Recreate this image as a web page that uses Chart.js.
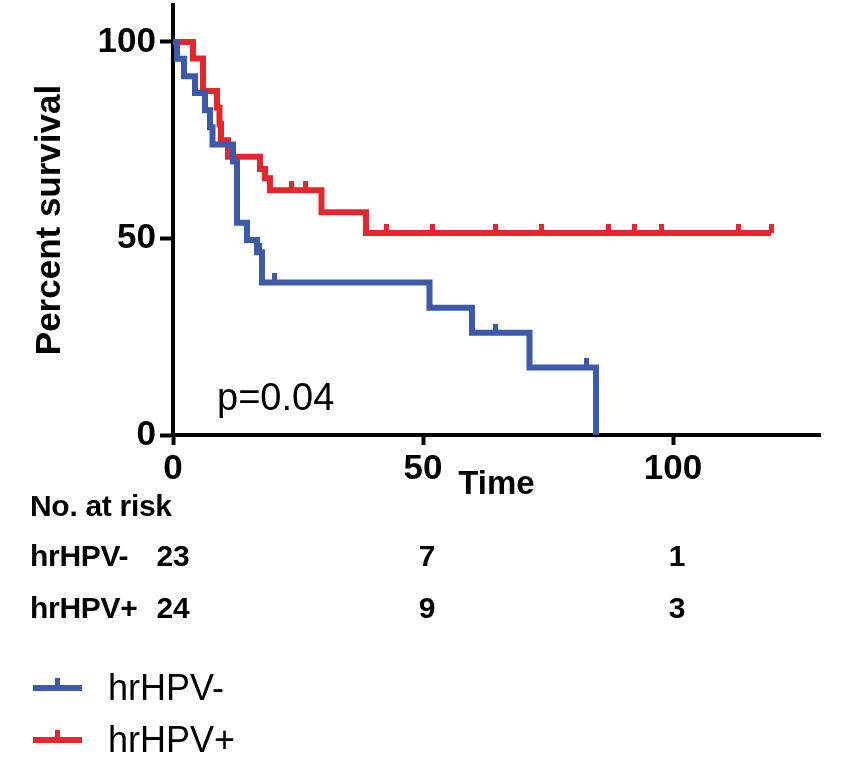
<!DOCTYPE html>
<html>
<head>
<meta charset="utf-8">
<script src="https://cdn.jsdelivr.net/npm/chart.js@4.4.1/dist/chart.umd.min.js"></script>
<style>
  html, body { margin: 0; padding: 0; background: #fff; }
  #wrap { position: relative; width: 858px; height: 776px; }
  .txt { position: absolute; line-height: 1; white-space: nowrap; color: #000; font-family: "Liberation Sans", Arial, sans-serif; }
  .risk { font-weight: bold; font-size: 30px; letter-spacing: -0.3px; }
  .num { transform: translateX(-50%); }
  .pval { font-size: 38px; }
  .leg { font-size: 36px; }
  .sample { position: absolute; height: 6px; width: 49px; }
  .sample i { position: absolute; left: 22px; top: -7px; width: 5px; height: 8px; }
</style>
</head>
<body>
<div id="wrap">
  <canvas id="km" width="858" height="776"></canvas>
</div>
<script>
// survival curves (time, percent survival)
var negTimes = [0, 0.8, 2.2, 4.4, 6.4, 7.4, 7.9, 12.0, 12.8, 14.8, 16.8, 17.8, 51.3, 59.8, 71.3, 84.6];
var negSurv  = [100, 95.7, 91.3, 87.0, 82.6, 78.3, 73.9, 69.6, 54.0, 49.6, 46.5, 38.8, 32.4, 26.0, 17.2, 0];
var negCensT = [17.2, 20.2, 64.5, 82.7];
var negCensS = [46.5, 38.8, 26.0, 17.2];

var posTimes = [0, 4.0, 6.0, 8.8, 9.3, 9.6, 11.0, 17.4, 18.4, 19.4, 29.7, 38.6, 119.6];
var posSurv  = [100, 95.8, 87.5, 83.3, 79.2, 75.0, 70.8, 67.7, 65.3, 62.3, 56.7, 51.4, 51.4];
var posCensT = [23.7, 26.5, 42.6, 51.8, 64.5, 73.7, 87.0, 92.2, 97.6, 113.0, 119.6];
var posCensS = [62.3, 62.3, 51.4, 51.4, 51.4, 51.4, 51.4, 51.4, 51.4, 51.4, 51.4];

// number at risk table
var riskTimes = [0, 50, 100];
var riskNeg = [23, 7, 1];
var riskPos = [24, 9, 3];

var groups = ['hrHPV-', 'hrHPV+'];
var blue = '#3b5aa9';
var red = '#e5262d';

function pts(xs, ys) {
    return xs.map(function (x, i) { return {x: x, y: ys[i]}; });
}

// censor mark: small tick pointing up from the line
function censorMark(color) {
    var c = document.createElement('canvas');
    c.width = 5; c.height = 18;
    var g = c.getContext('2d');
    g.fillStyle = color;
    g.fillRect(0, 0, 5, 9);
    return c;
}

var tickFont = {family: '"Liberation Sans Narrow", "Liberation Sans", Arial', size: 35, weight: 'bold'};

var ctx = document.getElementById('km').getContext('2d');
var chart = new Chart(ctx, {
    type: 'line',
    data: {
        datasets: [{
            label: groups[0],
            data: pts(negTimes, negSurv),
            borderColor: blue,
            borderWidth: 6,
            stepped: 'before',
            pointRadius: 0,
            order: 0
        }, {
            label: groups[0] + ' censored',
            data: pts(negCensT, negCensS),
            showLine: false,
            pointStyle: censorMark(blue),
            order: 0
        }, {
            label: groups[1],
            data: pts(posTimes, posSurv),
            borderColor: red,
            borderWidth: 6,
            stepped: 'before',
            pointRadius: 0,
            order: 1
        }, {
            label: groups[1] + ' censored',
            data: pts(posCensT, posCensS),
            showLine: false,
            pointStyle: censorMark(red),
            order: 1
        }]
    },
    options: {
        responsive: false,
        animation: false,
        layout: {padding: {left: 0, top: 5, right: 38, bottom: 271}},
        plugins: {
            legend: {display: false},
            tooltip: {enabled: false}
        },
        scales: {
            x: {
                type: 'linear',
                min: 0,
                max: 129.4,
                ticks: {stepSize: 50, includeBounds: false, color: '#000', font: tickFont, padding: 3, maxRotation: 0},
                grid: {drawOnChartArea: false, tickLength: 10, tickWidth: 4, tickColor: '#000'},
                border: {width: 4, color: '#000'},
                title: {display: true, text: 'Time', color: '#000',
                        font: {family: '"Liberation Sans", Arial', size: 33, weight: 'bold'},
                        padding: {top: 0, bottom: 0}},
                afterFit: function (s) { s.height = 70; s.paddingLeft = 0; s.paddingRight = 0; }
            },
            y: {
                min: 0,
                max: 109.4,
                ticks: {stepSize: 50, includeBounds: false, color: '#000', font: tickFont, padding: 4},
                grid: {drawOnChartArea: false, tickLength: 13, tickWidth: 4, tickColor: '#000'},
                border: {width: 4, color: '#000'},
                title: {display: true, text: 'Percent survival', color: '#000',
                        font: {family: '"Liberation Sans", Arial', size: 35, weight: 'bold'},
                        padding: {top: 29, bottom: 0}},
                afterFit: function (s) { s.width = 173; s.paddingTop = 0; s.paddingBottom = 0; }
            }
        }
    }
});

// text outside the plot: p value, number at risk, legend
var wrap = document.getElementById('wrap');
function addText(cls, text, left, top) {
    var d = document.createElement('div');
    d.className = 'txt ' + cls;
    d.textContent = text;
    d.style.left = left + 'px';
    d.style.top = top + 'px';
    wrap.appendChild(d);
    return d;
}

addText('pval', 'p=0.04', 217, 378);

var xs = chart.scales.x;
addText('risk', 'No. at risk', 30, 491);
var rowTops = [541, 593];
[riskNeg, riskPos].forEach(function (row, r) {
    addText('risk', groups[r], 30, rowTops[r]);
    row.forEach(function (n, i) {
        var px = xs.getPixelForValue(riskTimes[i]) + (i === 0 ? 0 : 4);
        addText('risk num', String(n), px, rowTops[r]);
    });
});

var legTops = [670, 722];
[blue, red].forEach(function (col, i) {
    var s = document.createElement('div');
    s.className = 'sample';
    s.style.left = '33px';
    s.style.top = (legTops[i] + 15) + 'px';
    s.style.background = col;
    var t = document.createElement('i');
    t.style.background = col;
    s.appendChild(t);
    wrap.appendChild(s);
    addText('leg', groups[i], 108, legTops[i]);
});
</script>
</body>
</html>
